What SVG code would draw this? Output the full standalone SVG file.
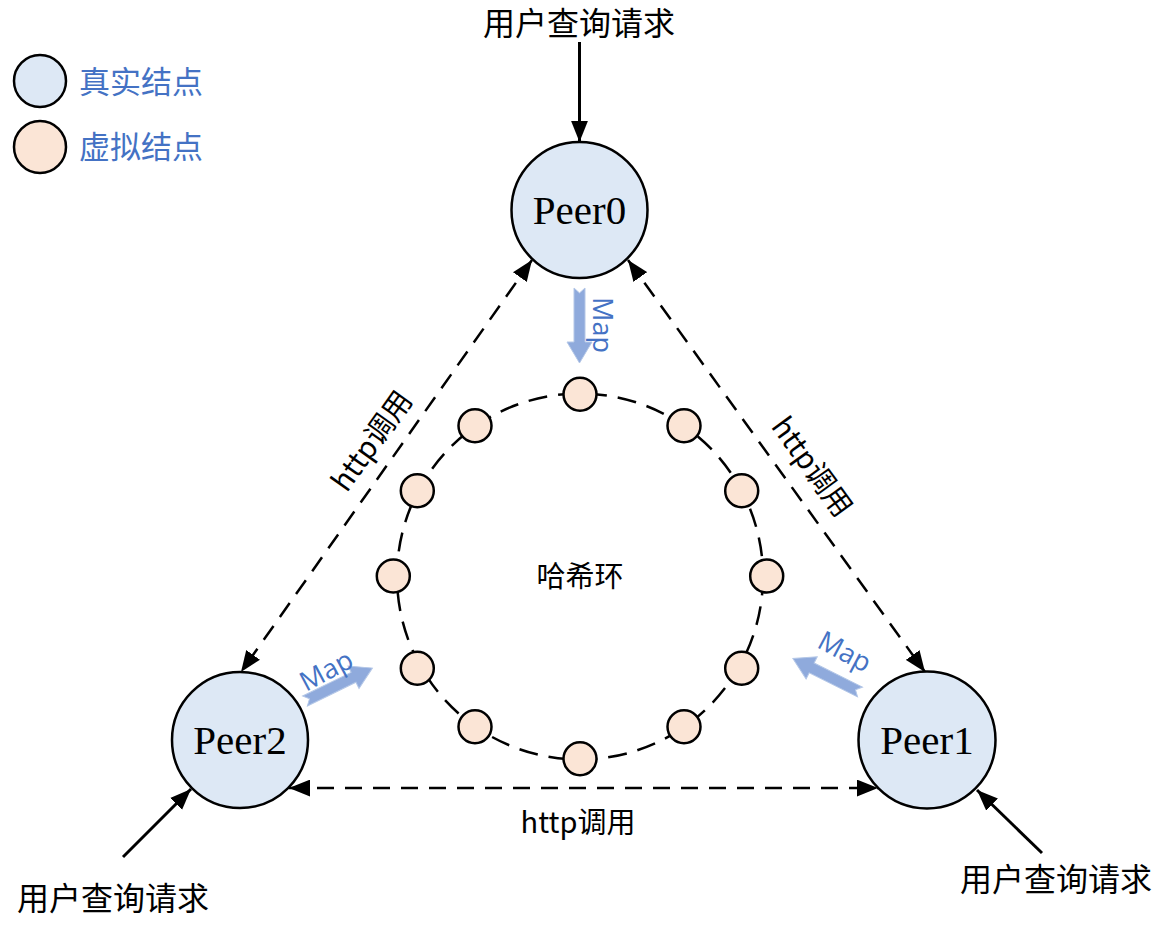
<svg xmlns="http://www.w3.org/2000/svg" width="1170" height="933" viewBox="0 0 1170 933">
<defs>
<style>
.peer{fill:#dde8f5;stroke:#000;stroke-width:2.5}
.vn{fill:#fbe5d6;stroke:#000;stroke-width:2.5}
.zh{font-family:"Noto Sans CJK SC","Noto Sans",sans-serif;fill:#000}
.lg{font-family:"Noto Sans CJK SC","Noto Sans",sans-serif;fill:#4472c4;font-size:31px}
.pt{font-family:"Liberation Serif",serif;font-size:41px;fill:#000;text-anchor:middle}
.map{font-family:"Open Sans","Liberation Sans",sans-serif;font-size:27px;fill:#4472c4;text-anchor:middle}
.dash{fill:none;stroke:#000;stroke-width:2.5;stroke-dasharray:17 11}
.solid{fill:none;stroke:#000;stroke-width:3}
.marr{fill:#8faadc;stroke:#b4c7e7;stroke-width:1}
</style>
<marker id="ah" viewBox="0 0 20 16" refX="20" refY="8" markerWidth="21" markerHeight="17" markerUnits="userSpaceOnUse" orient="auto-start-reverse">
<path d="M0,0 L20,8 L0,16 z" fill="#000"/>
</marker>
<path id="blk" d="M0,-5.5 L54,-5.5 L54,-12.5 L75,0 L54,12.5 L54,5.5 L0,5.5 L5,0 Z"/>
</defs>
<rect width="1170" height="933" fill="#fff"/>

<g id="legend">
<circle class="peer" cx="40" cy="81" r="26"/>
<text class="lg" x="79" y="93">真实结点</text>
<circle class="vn" cx="40" cy="147" r="26"/>
<text class="lg" x="79" y="158">虚拟结点</text>
</g>

<g id="ring">
<circle cx="580" cy="576.5" r="183" fill="none" stroke="#000" stroke-width="2.5" stroke-dasharray="19 11"/>
<text class="zh" x="580" y="587" font-size="29" text-anchor="middle">哈希环</text>
</g>

<g id="connectors">
<line class="solid" x1="579.5" y1="42" x2="579.5" y2="142" marker-end="url(#ah)"/>
<line class="solid" x1="123" y1="857" x2="191" y2="789" marker-end="url(#ah)"/>
<line class="solid" x1="1042" y1="853" x2="977" y2="790" marker-end="url(#ah)"/>
<line class="dash" x1="532" y1="260" x2="241" y2="672" marker-start="url(#ah)" marker-end="url(#ah)"/>
<line class="dash" x1="628" y1="260" x2="925" y2="672" marker-start="url(#ah)" marker-end="url(#ah)"/>
<line class="dash" x1="289" y1="788" x2="878" y2="788" marker-start="url(#ah)" marker-end="url(#ah)"/>
<text class="zh" font-size="29" text-anchor="middle" transform="translate(372,441) rotate(-54.5)" x="0" y="10">http调用</text>
<text class="zh" font-size="29" text-anchor="middle" transform="translate(812,467) rotate(54)" x="0" y="10">http调用</text>
<text class="zh" font-size="29" text-anchor="middle" x="578" y="833">http调用</text>
<use href="#blk" class="marr" transform="translate(579.5,288) rotate(90)"/>
<use href="#blk" class="marr" transform="translate(305,701) rotate(-26)"/>
<use href="#blk" class="marr" transform="translate(860,692) rotate(206.5)"/>
<text class="map" transform="translate(603,325) rotate(90)" x="0" y="10">Map</text>
<text class="map" transform="translate(326,670) rotate(-28)" x="0" y="10">Map</text>
<text class="map" transform="translate(845,651) rotate(28)" x="0" y="10">Map</text>
</g>

<g id="vnodes">
<circle class="vn" cx="580" cy="394.3" r="16.5"/>
<circle class="vn" cx="684" cy="425.7" r="16.5"/>
<circle class="vn" cx="741.7" cy="490.7" r="16.5"/>
<circle class="vn" cx="766.7" cy="576" r="16.5"/>
<circle class="vn" cx="741.7" cy="668.3" r="16.5"/>
<circle class="vn" cx="684" cy="726.7" r="16.5"/>
<circle class="vn" cx="580" cy="758.7" r="16.5"/>
<circle class="vn" cx="475" cy="726.7" r="16.5"/>
<circle class="vn" cx="417.3" cy="668.3" r="16.5"/>
<circle class="vn" cx="393.3" cy="576" r="16.5"/>
<circle class="vn" cx="417.3" cy="490.7" r="16.5"/>
<circle class="vn" cx="475" cy="425.7" r="16.5"/>
</g>

<g id="peer0">
<circle class="peer" cx="579.5" cy="210" r="68"/>
<text class="pt" x="579.5" y="224">Peer0</text>
</g>
<g id="peer1">
<circle class="peer" cx="927" cy="740" r="68.5"/>
<text class="pt" x="927" y="754">Peer1</text>
</g>
<g id="peer2">
<circle class="peer" cx="240" cy="740" r="68"/>
<text class="pt" x="240" y="754">Peer2</text>
</g>

<g id="requests">
<text class="zh" font-size="32" text-anchor="middle" x="579" y="35">用户查询请求</text>
<text class="zh" font-size="32" text-anchor="middle" x="113" y="910">用户查询请求</text>
<text class="zh" font-size="32" text-anchor="middle" x="1056" y="891">用户查询请求</text>
</g>
</svg>
